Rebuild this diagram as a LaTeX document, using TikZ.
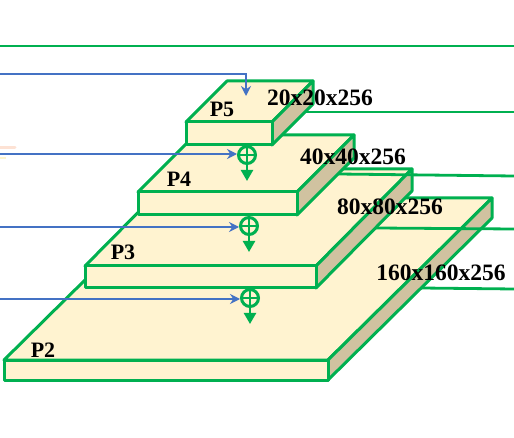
\documentclass[tikz,border=0pt]{standalone}
\usepackage{fontspec}
\setmainfont{Liberation Serif}
\usetikzlibrary{arrows.meta}
\definecolor{fpngreen}{RGB}{0,176,80}
\definecolor{fpnblue}{RGB}{68,114,196}
\definecolor{fpncream}{RGB}{255,243,208}
\definecolor{fpntan}{RGB}{208,194,160}
\definecolor{fpnorange}{RGB}{250,190,160}
\tikzset{
  slabline/.style={draw=fpngreen, line width=3pt, line join=round},
  topface/.style={slabline, fill=fpncream},
  sideface/.style={slabline, fill=fpntan},
  feedline/.style={draw=fpngreen, line width=2.8pt},
  lateral/.style={draw=fpnblue, line width=1.5pt, -{Stealth[length=10pt,width=10pt]}},
  addnode/.style={circle, draw=fpngreen, line width=3pt, minimum size=17pt, inner sep=0pt, path picture={
      \draw[fpngreen, line width=2.4pt] (path picture bounding box.north) -- (path picture bounding box.south)
        (path picture bounding box.west) -- (path picture bounding box.east);}},
  downarrow/.style={draw=fpngreen, line width=2.4pt, -{Triangle[length=11pt,width=12pt]}},
  dimlabel/.style={font=\bfseries\fontsize{23.5}{26}\selectfont, inner sep=0pt, anchor=base},
  plabel/.style={font=\bfseries\fontsize{22}{24}\selectfont, inner sep=0pt, anchor=base}
}
\newcommand\fpnslab[6]{%
  % #1 x left, #2 x right, #3 y top, #4 y bottom, #5 dx, #6 dy
  \path[topface] (#1,#3) -- (#2,#3) -- ({#2+#5},{#3+#6}) -- ({#1+#5},{#3+#6}) -- cycle;
  \path[sideface] (#2,#3) -- ({#2+#5},{#3+#6}) -- ({#2+#5},{#4+#6}) -- (#2,#4) -- cycle;
  \path[topface] (#1,#3) rectangle (#2,#4);
}
\begin{document}
\begin{tikzpicture}[x=1pt,y=-1pt]
\useasboundingbox (0,0) rectangle (514,438);

% faint fragment at left edge
\draw[fpnorange, line width=3pt, opacity=0.45, line cap=round] (0,148) -- (15,148);
\draw[yellow!60!orange, line width=2pt, opacity=0.2] (0,158) -- (6,158);

% top feedback line
\draw[feedline] (0,46) -- (514,46);

% P2
\fpnslab{4}{328}{360}{380}{164}{-162}
\draw[feedline] (421,288) -- (514,289);
% P3
\fpnslab{85}{316}{266}{288}{96}{-97}
\draw[feedline] (376,228) -- (514,229);
% P4
\fpnslab{138}{297}{192}{215}{57}{-57}
\draw[feedline] (338,174) -- (514,176);
% P5
\fpnslab{186}{272}{122}{145}{41}{-41}
\draw[feedline] (305,112) -- (514,112);

% add nodes
\node[addnode] (a4) at (247,155) {};
\node[addnode] (a3) at (249,226) {};
\node[addnode] (a2) at (250,298) {};

\coordinate (l5) at (0,74);
\coordinate (t5) at (246,96);
\coordinate (l4) at (0,154);
\coordinate (l3) at (0,227);
\coordinate (l2) at (0,299);
\coordinate (d4) at (247,181);
\coordinate (d3) at (249,252);
\coordinate (d2) at (250,324);

\draw[lateral] (l5) -| (t5);
\draw[lateral] (l4) -- (a4.west |- l4);
\draw[lateral] (l3) -- (a3.west |- l3);
\draw[lateral] (l2) -- (a2.west |- l2);

\draw[downarrow] (a4.south) -- (d4);
\draw[downarrow] (a3.south) -- (d3);
\draw[downarrow] (a2.south) -- (d2);

% labels
\node[plabel] (p5) at (222,117) {P5};
\node[plabel] (p4) at (179,187) {P4};
\node[plabel] (p3) at (123,260) {P3};
\node[plabel] (p2) at (43,357) {P2};

\node[dimlabel] (s5) at (320,106) {20x20x256};
\node[dimlabel] (s4) at (353,165) {40x40x256};
\node[dimlabel] (s3) at (390,215) {80x80x256};
\node[dimlabel] (s2) at (441,281) {160x160x256};
\end{tikzpicture}
\end{document}
